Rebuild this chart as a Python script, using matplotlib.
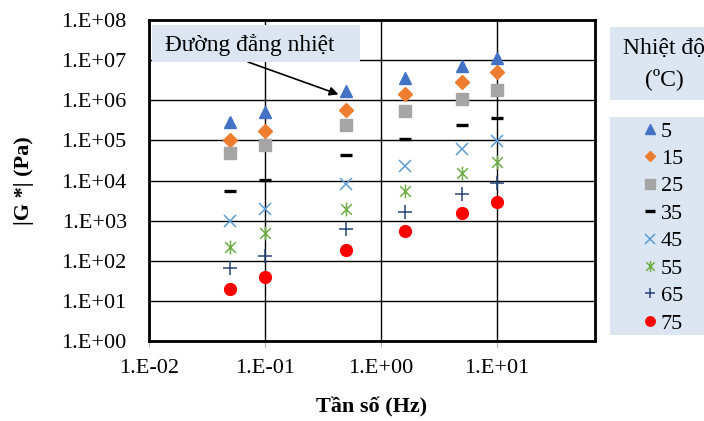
import matplotlib.pyplot as plt
import matplotlib.ticker as mticker
from matplotlib.path import Path
from matplotlib.patches import Rectangle
import numpy as np

plt.rcParams['font.family'] = ['Liberation Serif', 'DejaVu Serif']

# tần số (Hz)
freq = [0.05, 0.1, 0.5, 1.6, 5, 10]

# |G*| (Pa) theo nhiệt độ
temps = ['5', '15', '25', '35', '45', '55', '65', '75']
g_5 = [2.9e5, 5.2e5, 1.7e6, 3.6e6, 7.1e6, 1.15e7]
g_15 = [1.0e5, 1.75e5, 5.7e5, 1.4e6, 2.9e6, 5.0e6]
g_25 = [4.8e4, 7.6e4, 2.4e5, 5.4e5, 1.07e6, 1.75e6]
g_35 = [5.5e3, 1.04e4, 4.3e4, 1.07e5, 2.4e5, 3.7e5]
g_45 = [1.0e3, 2.0e3, 8.2e3, 2.3e4, 6.1e4, 9.8e4]
g_55 = [2.25e2, 4.8e2, 1.9e3, 5.6e3, 1.56e4, 2.9e4]
g_65 = [67, 130, 610, 1.67e3, 4.5e3, 8.5e3]
g_75 = [20, 40, 185, 560, 1.58e3, 2.95e3]
series = [g_5, g_15, g_25, g_35, g_45, g_55, g_65, g_75]

# ngôi sao kiểu Excel: dấu x + vạch đứng
star = Path([(-1, -1), (1, 1), (-1, 1), (1, -1), (0, -1.3), (0, 1.3)],
            [Path.MOVETO, Path.LINETO, Path.MOVETO, Path.LINETO, Path.MOVETO, Path.LINETO])

styles = [
    dict(marker='^', color='#4472c4', ms=9),
    dict(marker='D', color='#ed7d31', ms=7),
    dict(marker='s', color='#a5a5a5', ms=8.5),
    dict(marker='_', color='black', ms=8.5, mew=2.4),
    dict(marker='x', color='#5b9bd5', ms=8.5, mew=1.1),
    dict(marker=star, color='#70ad47', ms=10, mew=1.1),
    dict(marker='+', color='#264478', ms=9.5, mew=1.1),
    dict(marker='o', color='#ff0000', ms=8.5),
]

fig = plt.figure(figsize=(7.04, 4.21), dpi=100)
ax = fig.add_axes([149 / 704, 80 / 421, 446 / 704, 321 / 421])

handles = []
for vals, st, lab in zip(series, styles, temps):
    h, = ax.plot(freq, vals, linestyle='none', label=lab, zorder=3, **st)
    handles.append(h)

ax.set_xscale('log')
ax.set_yscale('log')
ax.set_xlim(0.01, 70)
ax.set_ylim(1, 1e8)

ax.xaxis.set_major_locator(mticker.FixedLocator([1e-2, 1e-1, 1e0, 1e1]))
ax.yaxis.set_major_locator(mticker.FixedLocator([10.0 ** k for k in range(9)]))
ax.xaxis.set_minor_locator(mticker.NullLocator())
ax.yaxis.set_minor_locator(mticker.NullLocator())
fmt = mticker.FuncFormatter(lambda v, p: '1.E{:+03d}'.format(int(round(np.log10(v)))))
ax.xaxis.set_major_formatter(fmt)
ax.yaxis.set_major_formatter(fmt)

ax.grid(True, color='black', lw=1.0, zorder=1)
ax.set_axisbelow(True)
for sp in ax.spines.values():
    sp.set_linewidth(2)
ax.tick_params(axis='x', length=4, color='#b0b0b0', pad=9, labelsize=16)
ax.tick_params(axis='y', length=0, pad=16, labelsize=16)

ax.set_xlabel('Tần số (Hz)', fontsize=16, fontweight='bold', labelpad=14)
ax.set_ylabel('|G *| (Pa)', fontsize=16, fontweight='bold', labelpad=20)

# chú thích "Đường đẳng nhiệt"
fig.patches.append(Rectangle((152 / 704, 359 / 421), 208 / 704, 37 / 421,
                             transform=fig.transFigure, facecolor='#dce6f2',
                             edgecolor='none', zorder=5))
fig.text(165 / 704, 376 / 421, 'Đường đẳng nhiệt', fontsize=16.8, va='center', zorder=6)
ax.annotate('', xy=(0.43, 1.4e6), xycoords='data',
            xytext=(248, 359), textcoords='figure pixels',
            arrowprops=dict(arrowstyle='-|>', color='black', lw=1.2,
                            mutation_scale=13, shrinkA=0, shrinkB=0),
            zorder=6, annotation_clip=False)

# khung tiêu đề chú giải
fig.patches.append(Rectangle((610 / 704, 321 / 421), 94 / 704, 73 / 421,
                             transform=fig.transFigure, facecolor='#dce6f2',
                             edgecolor='none', zorder=5))
fig.text(664 / 704, 357 / 421, 'Nhiệt độ\n(ºC)', fontsize=17, ha='center', va='center',
         linespacing=1.5, zorder=6)

# khung chú giải
fig.patches.append(Rectangle((610 / 704, 86 / 421), 94 / 704, 218 / 421,
                             transform=fig.transFigure, facecolor='#dce6f2',
                             edgecolor='none', zorder=5))
leg = fig.legend(handles=handles, loc='upper left', bbox_to_anchor=(641 / 704, 300 / 421),
                 frameon=False, fontsize=16, handlelength=0.8, handletextpad=0.1,
                 labelspacing=0.31, borderpad=0, borderaxespad=0, markerscale=0.8)
leg.set_zorder(7)

fig.savefig('out.png', dpi=100)
